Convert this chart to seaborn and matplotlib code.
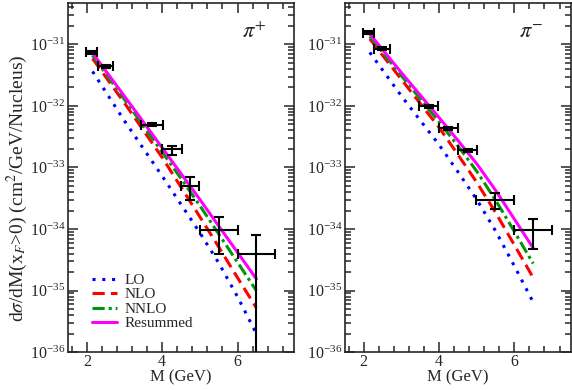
import pandas as pd
import matplotlib
matplotlib.use("Agg")
import matplotlib.pyplot as plt
import seaborn as sns
from matplotlib.ticker import MultipleLocator, FixedLocator, LogLocator, NullFormatter

# theory curves
curve_names = ["LO", "NLO", "NNLO", "Resummed"]
curve_colors = ["#0000ff", "#ff0000", "#00960a", "#ff00ff"]

m_plus = [2.15, 3.0, 4.0, 4.5, 5.0, 5.5, 6.0, 6.5]
lo_plus = [3.63e-32, 5.69e-33, 7.24e-34, 2.51e-34, 8.71e-35, 2.82e-35, 7.94e-36, 2.0e-36]
nlo_plus = [5.89e-32, 1.11e-32, 1.45e-33, 4.79e-34, 1.58e-34, 5.13e-35, 1.62e-35, 5.25e-36]
nnlo_plus = [6.61e-32, 1.27e-32, 1.78e-33, 6.61e-34, 2.40e-34, 8.32e-35, 2.88e-35, 1.0e-35]
res_plus = [7.24e-32, 1.43e-32, 2.09e-33, 7.94e-34, 3.02e-34, 1.12e-34, 4.17e-35, 1.55e-35]

m_minus = [2.16, 3.0, 4.0, 4.5, 5.0, 5.5, 6.0, 6.5]
lo_minus = [7.41e-32, 1.45e-32, 2.34e-33, 8.51e-34, 3.02e-34, 9.33e-35, 2.51e-35, 6.46e-36]
nlo_minus = [1.23e-31, 2.69e-32, 4.47e-33, 1.62e-33, 5.75e-34, 1.86e-34, 5.50e-35, 1.62e-35]
nnlo_minus = [1.35e-31, 3.09e-32, 5.50e-33, 2.24e-33, 8.71e-34, 2.95e-34, 9.12e-35, 2.75e-35]
res_minus = [1.48e-31, 3.47e-32, 6.46e-33, 2.75e-33, 1.15e-33, 4.27e-34, 1.45e-34, 4.90e-35]

# data points
dm_plus = [2.12, 2.5, 3.73, 4.26, 4.74, 5.5, 6.5]
dx_plus = [0.15, 0.2, 0.28, 0.27, 0.25, 0.5, 0.5]
dy_plus = [7.5e-32, 4.4e-32, 4.95e-33, 1.96e-33, 5.0e-34, 9.5e-35, 3.9e-35]
dy_plus_lo = [7.1e-32, 4.2e-32, 4.7e-33, 1.62e-33, 3.0e-34, 3.9e-35, 1e-37]
dy_plus_hi = [7.9e-32, 4.6e-32, 5.2e-33, 2.24e-33, 6.9e-34, 1.55e-34, 7.9e-35]

dm_minus = [2.13, 2.49, 3.73, 4.25, 4.76, 5.49, 6.5]
dx_minus = [0.14, 0.21, 0.25, 0.25, 0.25, 0.5, 0.5]
dy_minus = [1.55e-31, 8.5e-32, 9.8e-33, 4.3e-33, 1.9e-33, 2.95e-34, 9.5e-35]
dy_minus_lo = [1.47e-31, 8.1e-32, 9.3e-33, 4.1e-33, 1.8e-33, 2.1e-34, 4.8e-35]
dy_minus_hi = [1.63e-31, 8.9e-32, 1.03e-32, 4.5e-33, 2.0e-33, 3.8e-34, 1.45e-34]

y_ticks = [1e-36, 1e-35, 1e-34, 1e-33, 1e-32, 1e-31]

sns.set_style("ticks")
plt.rcParams["font.family"] = ["Liberation Serif", "DejaVu Serif"]
plt.rcParams["mathtext.fontset"] = "stix"

fig = plt.figure(figsize=(5.72, 3.9), dpi=100)
ax1 = fig.add_axes([0.119, 0.097, 0.395, 0.895])
ax2 = fig.add_axes([0.603, 0.097, 0.395, 0.895])

dash_map = {"LO": (1, 2.2), "NLO": (4, 2), "NNLO": (4, 1.3, 1, 1.3), "Resummed": ""}


def make_panel(ax, m, curves, dm, dx, dy, dlo, dhi, label):
    ax.set_yscale("log")
    rows = []
    for name, vals in zip(curve_names, curves):
        for x, v in zip(m, vals):
            rows.append({"M": x, "sigma": v, "order": name})
    df = pd.DataFrame(rows)
    sns.lineplot(data=df, x="M", y="sigma", hue="order", style="order",
                 hue_order=curve_names, style_order=curve_names,
                 palette=curve_colors, dashes=dash_map, lw=2.2,
                 estimator=None, sort=True, legend=False, ax=ax)
    yerr = [[y - lo for y, lo in zip(dy, dlo)], [hi - y for y, hi in zip(dy, dhi)]]
    ax.errorbar(dm, dy, xerr=dx, yerr=yerr, fmt="none", ecolor="black",
                elinewidth=1.5, capsize=3.5, capthick=1.5, zorder=5)
    ax.set_xlim(1.5, 7.5)
    ax.set_ylim(1e-36, 10 ** -30.33)
    ax.xaxis.set_major_locator(MultipleLocator(2))
    ax.xaxis.set_minor_locator(MultipleLocator(0.4))
    ax.yaxis.set_major_locator(FixedLocator(y_ticks))
    ax.yaxis.set_minor_locator(LogLocator(base=10, subs=range(2, 10), numticks=20))
    ax.yaxis.set_minor_formatter(NullFormatter())
    ax.tick_params(which="both", direction="in", top=True, right=True,
                   labelsize=11.5, width=1.1)
    ax.tick_params(axis="x", pad=1)
    ax.tick_params(axis="y", pad=2)
    ax.tick_params(which="major", length=7)
    ax.tick_params(which="minor", length=4)
    for s in ax.spines.values():
        s.set_linewidth(1.2)
    ax.set_xlabel("M (GeV)", fontsize=12, labelpad=0)
    ax.set_ylabel("")
    ax.text(0.77, 0.90, label, transform=ax.transAxes, fontsize=16)


make_panel(ax1, m_plus, [lo_plus, nlo_plus, nnlo_plus, res_plus],
           dm_plus, dx_plus, dy_plus, dy_plus_lo, dy_plus_hi, r"$\pi^{+}$")
make_panel(ax2, m_minus, [lo_minus, nlo_minus, nnlo_minus, res_minus],
           dm_minus, dx_minus, dy_minus, dy_minus_lo, dy_minus_hi, r"$\pi^{-}$")

ax1.set_ylabel(r"d$\sigma$/dM(x$_F$>0) (cm$^2$/GeV/Nucleus)", fontsize=14)
ax1.yaxis.set_label_coords(-0.17, 0.47)

handles = ax1.lines[:4]
ax1.legend(handles, curve_names, loc="lower left", bbox_to_anchor=(0.08, 0.045),
           frameon=False, fontsize=11, handlelength=1.6, handletextpad=0.5,
           labelspacing=0.05, borderaxespad=0)

fig.savefig("out.png", dpi=100)
